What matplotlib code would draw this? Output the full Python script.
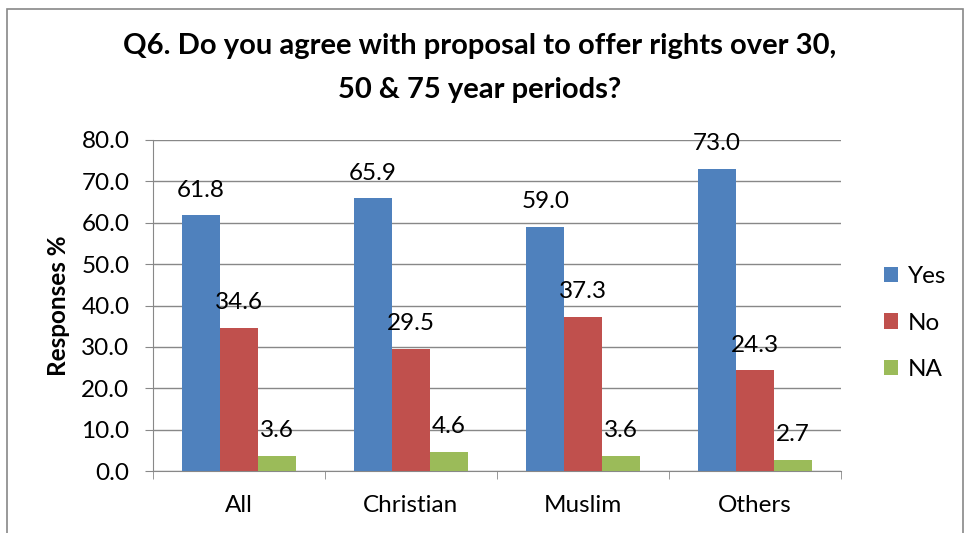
import numpy as np
import matplotlib.pyplot as plt
from matplotlib.patches import Rectangle

plt.rcParams['font.family'] = ['Lato', 'DejaVu Sans']

# Survey data
categories = ['All', 'Christian', 'Muslim', 'Others']
yes_vals = [61.8, 65.9, 59.0, 73.0]
no_vals = [34.6, 29.5, 37.3, 24.3]
na_vals = [3.6, 4.6, 3.6, 2.7]
series_names = ['Yes', 'No', 'NA']
colors = ['#4f81bd', '#c0504d', '#9bbb59']

FS = 17.5
fig = plt.figure(figsize=(9.67, 5.33), dpi=100)
ax = fig.add_axes([153/967, 1 - 471/533, (841 - 153)/967, (471 - 140)/533])

# grey frame around the whole chart
fig.patches.append(Rectangle((7/967, -0.05), (963 - 7)/967, 1.05 - 9/533,
                             transform=fig.transFigure, fill=False,
                             edgecolor='#888888', linewidth=1.2))

x = np.arange(len(categories))
w = 0.22
for i, (vals, name, c) in enumerate(zip([yes_vals, no_vals, na_vals], series_names, colors)):
    pos = x + (i - 1) * w
    ax.bar(pos, vals, w, color=c, label=name, zorder=3)
    for p, v in zip(pos, vals):
        ax.annotate(f"{v:.1f}", (p, v), xytext=(0, 13.5), textcoords='offset points',
                    ha='center', va='baseline', fontsize=FS)

ax.set_xlim(-0.5, len(categories) - 0.5)
ax.set_ylim(0, 80)
yt = np.arange(0, 81, 10)
ax.set_yticks(yt)
ax.set_yticklabels([f"{t:.1f}" for t in yt], fontsize=FS)
ax.set_xticks(x)
ax.set_xticklabels(categories, fontsize=FS)
ax.tick_params(axis='x', length=0, pad=17)
ax.tick_params(axis='y', length=6, color='#888888', pad=11)
# tick marks between the groups
ax.set_xticks(np.arange(-0.5, len(categories) + 0.5, 1), minor=True)
ax.tick_params(axis='x', which='minor', length=6, color='#888888')

ax.yaxis.grid(True, color='#888888', linewidth=1, zorder=0)
ax.set_axisbelow(True)
for s in ['top', 'right']:
    ax.spines[s].set_visible(False)
for s in ['left', 'bottom']:
    ax.spines[s].set_color('#888888')

ax.set_ylabel('Responses %', fontsize=FS, fontweight='bold', labelpad=8)

fig.text(480/967, 1 - 68/533,
         'Q6. Do you agree with proposal to offer rights over 30,\n50 & 75 year periods?',
         ha='center', va='center', fontsize=21, fontweight='bold', linespacing=1.9)

ax.legend(loc='center left', bbox_to_anchor=(862/967, 1 - 323/533),
          bbox_transform=fig.transFigure, frameon=False, fontsize=FS,
          handlelength=0.6, handleheight=0.6, labelspacing=1.05, handletextpad=0.4)

plt.savefig('out.png', dpi=100)
